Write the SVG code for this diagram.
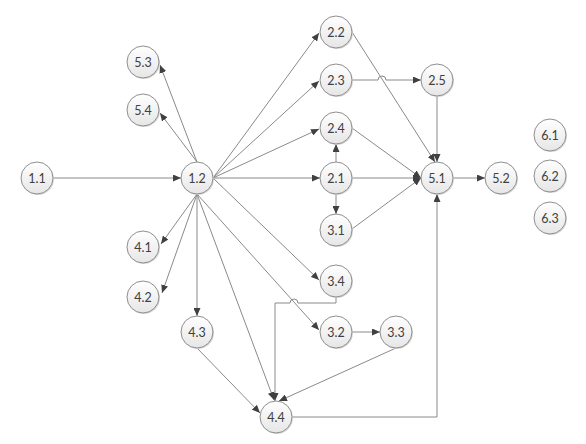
<svg xmlns="http://www.w3.org/2000/svg" width="586" height="444" viewBox="0 0 586 444">
<defs>
<linearGradient id="g" x1="0" y1="0" x2="0" y2="1">
<stop offset="0" stop-color="#ffffff"/>
<stop offset="1" stop-color="#e6e6e6"/>
</linearGradient>
<marker id="a" markerUnits="userSpaceOnUse" markerWidth="8" markerHeight="7" refX="8" refY="3.5" orient="auto">
<path d="M0,0 L8,3.5 L0,7 z" fill="#404040"/>
</marker>
</defs>
<style>
.e{fill:none;stroke:#8a8a8a;stroke-width:1;marker-end:url(#a)}
.n circle.s{fill:#d9d9d9;stroke:none}
.n circle.c{fill:url(#g);stroke:#8f8f8f;stroke-width:1}
.n text{font-family:Lato,"Liberation Sans",Arial,sans-serif;font-size:12.5px;fill:#404040;text-anchor:middle;dominant-baseline:central}
</style>
<rect width="586" height="444" fill="#ffffff"/>
<g id="connectors">
<path class="e" d="M53,178 H181"/>
<path class="e" d="M197,162 L160,65"/>
<path class="e" d="M197,162 L160,113"/>
<path class="e" d="M213,178 L319,33"/>
<path class="e" d="M213,178 L319,81"/>
<path class="e" d="M213,178 L319,129"/>
<path class="e" d="M213,178 H320"/>
<path class="e" d="M213,178 L319,280"/>
<path class="e" d="M197,194 L319,330"/>
<path class="e" d="M197,194 L161,244"/>
<path class="e" d="M197,194 L162,293"/>
<path class="e" d="M197,194 V316"/>
<path class="e" d="M197,194 L274,400"/>
<path class="e" d="M336,162 V144"/>
<path class="e" d="M336,194 V214"/>
<path class="e" d="M352,178 H421"/>
<path class="e" d="M352,32 L435,162"/>
<path class="e" d="M352,80 H378 a4,4 0 0 1 8,0 H421"/>
<path class="e" d="M437,96 V162"/>
<path class="e" d="M352,128 L421,178"/>
<path class="e" d="M352,229 L421,178"/>
<path class="e" d="M453,178 H485"/>
<path class="e" d="M336,297 V303 H298 a4,4 0 0 0 -8,0 H275 V401"/>
<path class="e" d="M352,332 H380"/>
<path class="e" d="M396,348 L279,401"/>
<path class="e" d="M197,348 L260,413"/>
<path class="e" d="M292,417 H437 V194"/>
</g>
<g id="n11" class="n"><circle class="s" cx="38" cy="179" r="16"/><circle class="c" cx="37" cy="178" r="16"/><text x="37" y="178">1.1</text></g>
<g id="n12" class="n"><circle class="s" cx="198" cy="179" r="16"/><circle class="c" cx="197" cy="178" r="16"/><text x="197" y="178">1.2</text></g>
<g id="n53" class="n"><circle class="s" cx="144" cy="63" r="16"/><circle class="c" cx="143" cy="62" r="16"/><text x="143" y="62">5.3</text></g>
<g id="n54" class="n"><circle class="s" cx="144" cy="111" r="16"/><circle class="c" cx="143" cy="110" r="16"/><text x="143" y="110">5.4</text></g>
<g id="n41" class="n"><circle class="s" cx="144" cy="248" r="16"/><circle class="c" cx="143" cy="247" r="16"/><text x="143" y="247">4.1</text></g>
<g id="n42" class="n"><circle class="s" cx="144" cy="298" r="16"/><circle class="c" cx="143" cy="297" r="16"/><text x="143" y="297">4.2</text></g>
<g id="n43" class="n"><circle class="s" cx="198" cy="333" r="16"/><circle class="c" cx="197" cy="332" r="16"/><text x="197" y="332">4.3</text></g>
<g id="n44" class="n"><circle class="s" cx="277" cy="418" r="16"/><circle class="c" cx="276" cy="417" r="16"/><text x="276" y="417">4.4</text></g>
<g id="n22" class="n"><circle class="s" cx="337" cy="33" r="16"/><circle class="c" cx="336" cy="32" r="16"/><text x="336" y="32">2.2</text></g>
<g id="n23" class="n"><circle class="s" cx="337" cy="81" r="16"/><circle class="c" cx="336" cy="80" r="16"/><text x="336" y="80">2.3</text></g>
<g id="n24" class="n"><circle class="s" cx="337" cy="129" r="16"/><circle class="c" cx="336" cy="128" r="16"/><text x="336" y="128">2.4</text></g>
<g id="n21" class="n"><circle class="s" cx="337" cy="179" r="16"/><circle class="c" cx="336" cy="178" r="16"/><text x="336" y="178">2.1</text></g>
<g id="n31" class="n"><circle class="s" cx="337" cy="231" r="16"/><circle class="c" cx="336" cy="230" r="16"/><text x="336" y="230">3.1</text></g>
<g id="n34" class="n"><circle class="s" cx="337" cy="282" r="16"/><circle class="c" cx="336" cy="281" r="16"/><text x="336" y="281">3.4</text></g>
<g id="n32" class="n"><circle class="s" cx="337" cy="333" r="16"/><circle class="c" cx="336" cy="332" r="16"/><text x="336" y="332">3.2</text></g>
<g id="n33" class="n"><circle class="s" cx="397" cy="333" r="16"/><circle class="c" cx="396" cy="332" r="16"/><text x="396" y="332">3.3</text></g>
<g id="n25" class="n"><circle class="s" cx="438" cy="81" r="16"/><circle class="c" cx="437" cy="80" r="16"/><text x="437" y="80">2.5</text></g>
<g id="n51" class="n"><circle class="s" cx="438" cy="179" r="16"/><circle class="c" cx="437" cy="178" r="16"/><text x="437" y="178">5.1</text></g>
<g id="n52" class="n"><circle class="s" cx="502" cy="179" r="16"/><circle class="c" cx="501" cy="178" r="16"/><text x="501" y="178">5.2</text></g>
<g id="n61" class="n"><circle class="s" cx="551" cy="136" r="16"/><circle class="c" cx="550" cy="135" r="16"/><text x="550" y="135">6.1</text></g>
<g id="n62" class="n"><circle class="s" cx="551" cy="177" r="16"/><circle class="c" cx="550" cy="176" r="16"/><text x="550" y="176">6.2</text></g>
<g id="n63" class="n"><circle class="s" cx="551" cy="219" r="16"/><circle class="c" cx="550" cy="218" r="16"/><text x="550" y="218">6.3</text></g>
</svg>
